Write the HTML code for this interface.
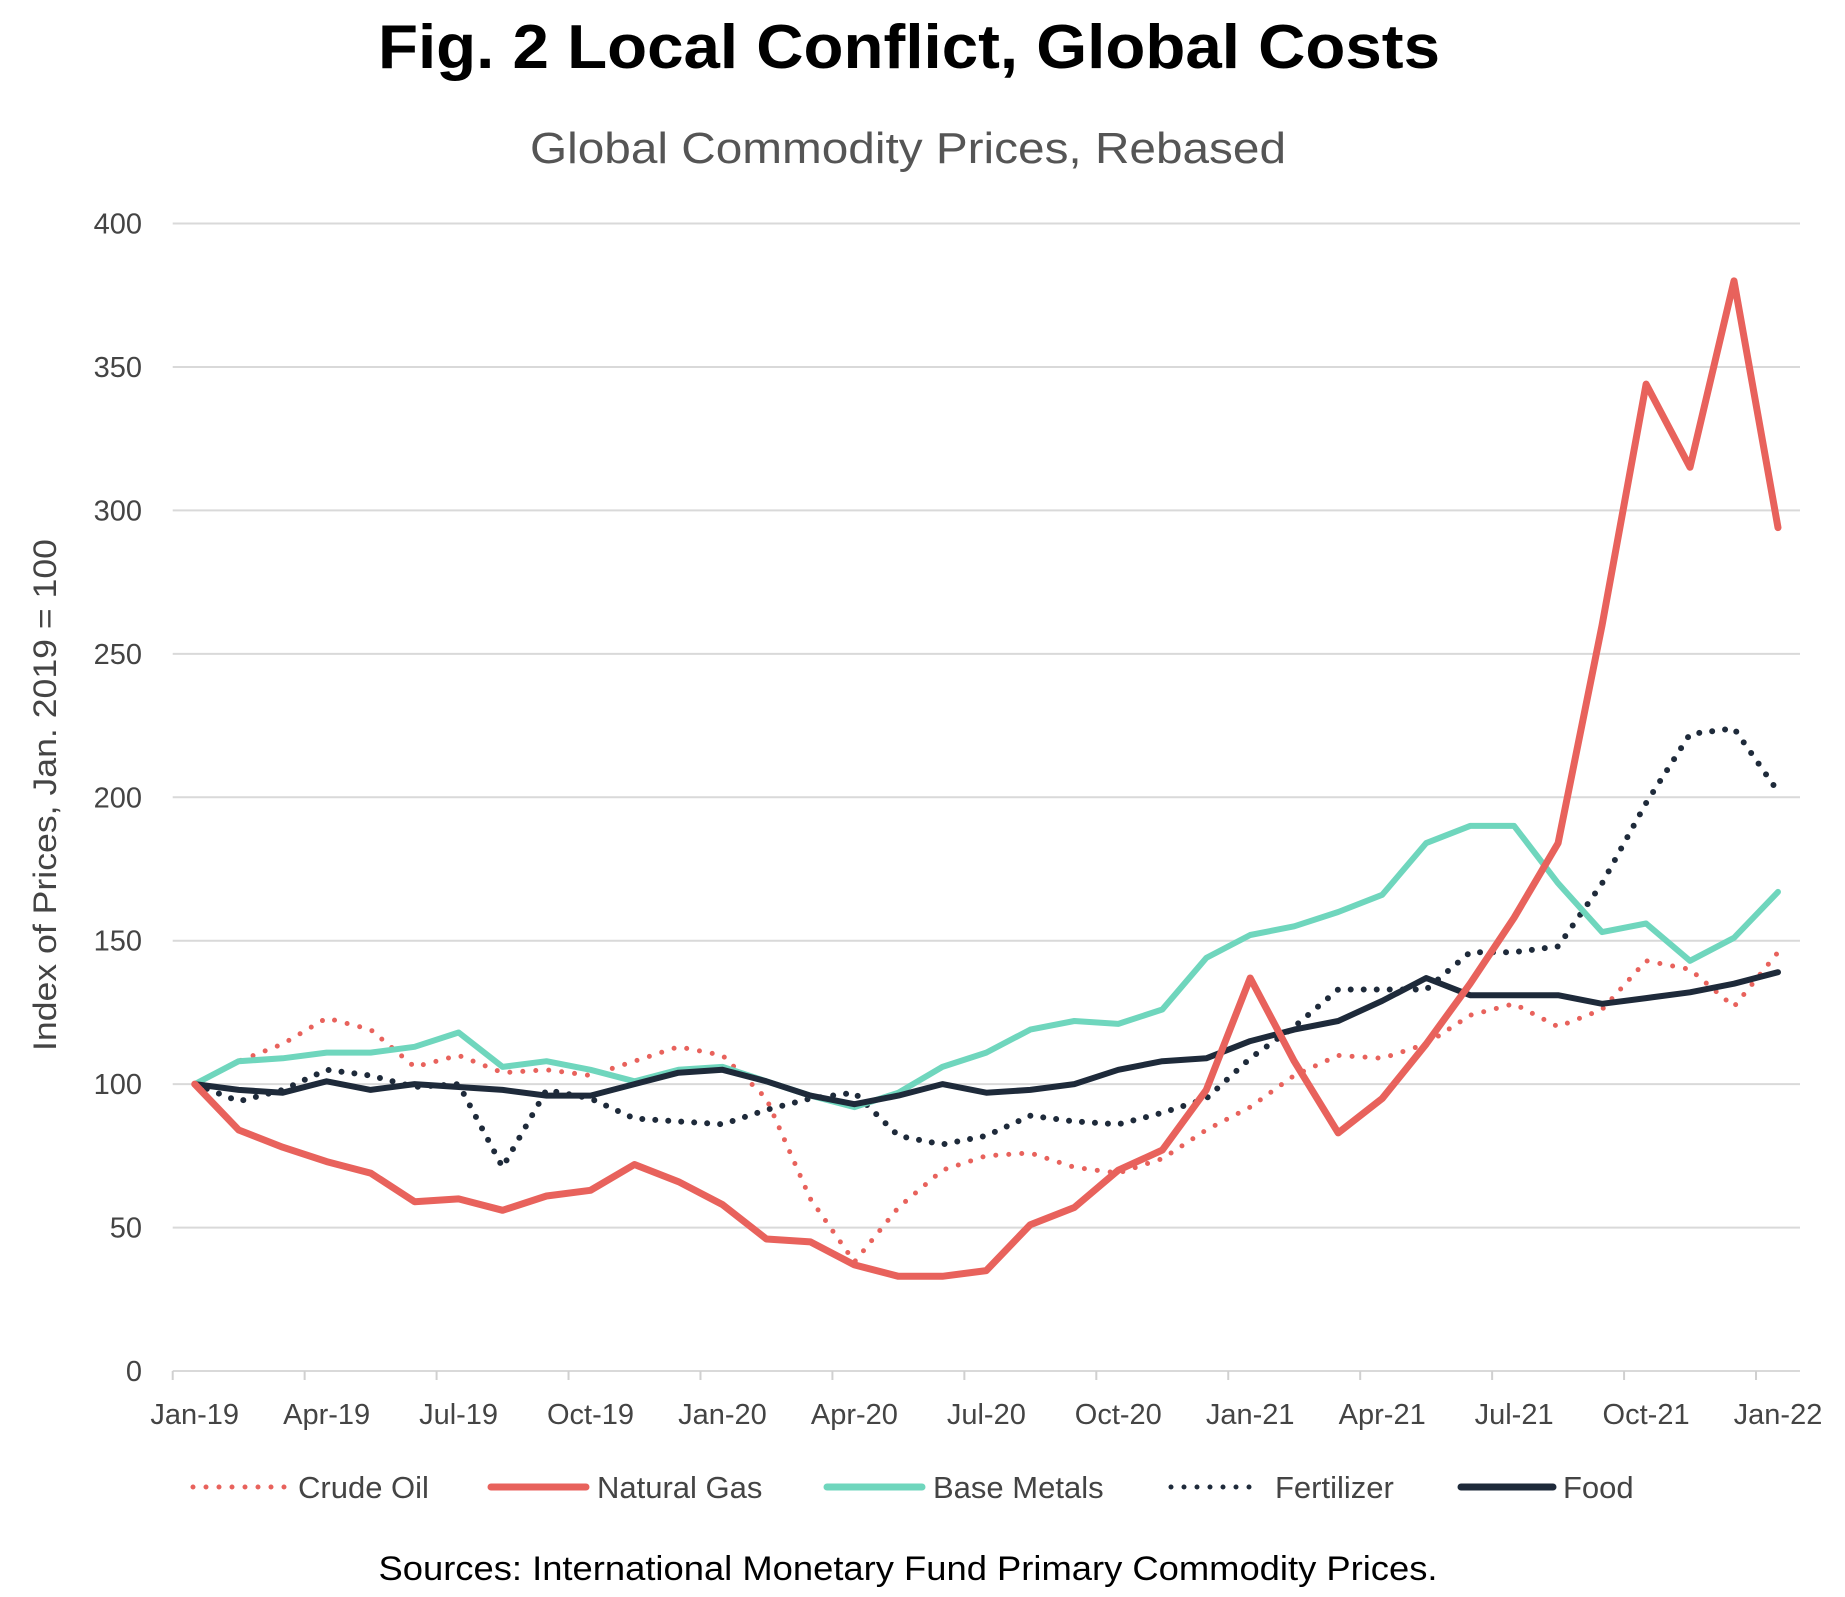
<!DOCTYPE html>
<html><head><meta charset="utf-8"><style>
html,body{margin:0;padding:0;background:#fff;}
svg{display:block;font-family:"Liberation Sans",sans-serif;}
</style></head><body>
<svg id="chart" width="1845" height="1597" viewBox="0 0 1845 1597" xmlns="http://www.w3.org/2000/svg">
<text x="909" y="68" text-anchor="middle" font-size="62" font-weight="bold" fill="#000" textLength="1062" lengthAdjust="spacingAndGlyphs">Fig. 2 Local Conflict, Global Costs</text>
<text x="908" y="163" text-anchor="middle" font-size="44" fill="#555" textLength="756" lengthAdjust="spacingAndGlyphs">Global Commodity Prices, Rebased</text>
<text transform="translate(56,795) rotate(-90)" text-anchor="middle" font-size="32" fill="#444" textLength="512" lengthAdjust="spacingAndGlyphs">Index of Prices, Jan. 2019 = 100</text>
<g id="grid"></g><g id="yticks"></g><g id="xaxis"></g><g id="series"></g>
<g id="legend"></g>
<text x="908" y="1580" text-anchor="middle" font-size="34" fill="#000" textLength="1059" lengthAdjust="spacingAndGlyphs">Sources: International Monetary Fund Primary Commodity Prices.</text>
</svg>
<script>
const months = ["Jan-19","Feb-19","Mar-19","Apr-19","May-19","Jun-19","Jul-19","Aug-19","Sep-19","Oct-19","Nov-19","Dec-19","Jan-20","Feb-20","Mar-20","Apr-20","May-20","Jun-20","Jul-20","Aug-20","Sep-20","Oct-20","Nov-20","Dec-20","Jan-21","Feb-21","Mar-21","Apr-21","May-21","Jun-21","Jul-21","Aug-21","Sep-21","Oct-21","Nov-21","Dec-21","Jan-22"];
const yTicks = [0,50,100,150,200,250,300,350,400];
const crudeOil = [100,108,114,123,119,106,110,104,105,103,108,113,110,95,60,38,57,70,75,76,71,69,74,84,92,103,110,109,114,124,128,120,126,143,140,127,146];
const naturalGas = [100,84,78,73,69,59,60,56,61,63,72,66,58,46,45,37,33,33,35,51,57,70,77,98,137,108,83,95,114,135,158,184,260,344,315,380,294];
const baseMetals = [100,108,109,111,111,113,118,106,108,105,101,105,106,101,96,92,97,106,111,119,122,121,126,144,152,155,160,166,184,190,190,170,153,156,143,151,167];
const fertilizer = [100,94,98,105,103,99,100,71,98,95,88,87,86,91,95,97,82,79,82,89,87,86,90,95,109,120,133,133,133,146,146,148,170,198,222,224,202];
const food = [100,98,97,101,98,100,99,98,96,96,100,104,105,101,96,93,96,100,97,98,100,105,108,109,115,119,122,129,137,131,131,131,128,130,132,135,139];

const NS="http://www.w3.org/2000/svg";
const plotL=172.7, plotR=1800, plotT=223.5, plotB=1371;
const step=(plotR-plotL)/months.length;
function xPos(i){return plotL+step*(i+0.5);}
function yPos(v){return plotB-(v/400)*(plotB-plotT);}
function mk(tag,attrs,parent){const e=document.createElementNS(NS,tag);for(const k in attrs)e.setAttribute(k,attrs[k]);parent.appendChild(e);return e;}

const gridG=document.getElementById('grid'), ytG=document.getElementById('yticks'), xaG=document.getElementById('xaxis');
yTicks.forEach(v=>{
  const l=mk('line',{x1:plotL,x2:plotR,y1:yPos(v),y2:yPos(v),stroke:'#d9d9d9','stroke-width':2},gridG);
  
  
  const t=mk('text',{x:142,y:yPos(v)+10,'text-anchor':'end','font-size':29,fill:'#444'},ytG);
  
  
  t.textContent=v;
});
for(let i=0;i<months.length;i++){
  if(i%3===0){
    const tk=mk('line',{x1:plotL+step*i,x2:plotL+step*i,y1:plotB,y2:plotB+9,stroke:'#d0d0d0','stroke-width':2},xaG);
    
    
    const t=mk('text',{x:xPos(i),y:1424,'text-anchor':'middle','font-size':29,fill:'#444'},xaG);
    
    
    t.textContent=months[i];
  }
}
const serG=document.getElementById('series');
function draw(arr,color,w,dotted,name){
  const d=arr.map((v,i)=>(i?'L':'M')+xPos(i).toFixed(1)+' '+yPos(v).toFixed(1)).join(' ');
  const a={d:d,fill:'none',stroke:color,'stroke-width':w,'stroke-linejoin':'round','stroke-linecap':'round'};
  if(dotted){a['stroke-dasharray']='0 13';}
  const p=mk('path',a,serG);
  
  
}
draw(fertilizer,'#1e2a3a',6,true,'fertilizer');
draw(crudeOil,'#e8625c',5,true,'crude-oil');
draw(baseMetals,'#6fd6bd',6,false,'base-metals');
draw(food,'#1e2a3a',6,false,'food');
draw(naturalGas,'#e8625c',7,false,'natural-gas');

const legG=document.getElementById('legend');
const items=[["Crude Oil","#e8625c",true,193,288,298],["Natural Gas","#e8625c",false,491,586,597],["Base Metals","#6fd6bd",false,827,922,933],["Fertilizer","#1e2a3a",true,1171,1260,1275],["Food","#1e2a3a",false,1461,1553,1563]];
items.forEach(it=>{
  const a={x1:it[3],x2:it[4],y1:1487,y2:1487,stroke:it[1],'stroke-width':it[2]?5:7,'stroke-linecap':'round'};
  if(it[2])a['stroke-dasharray']='0 13';
  const l=mk('line',a,legG);
  
  
  const t=mk('text',{x:it[5],y:1498,'font-size':31,fill:'#444'},legG);
  
  
  t.textContent=it[0];
});
</script>
</body></html>
